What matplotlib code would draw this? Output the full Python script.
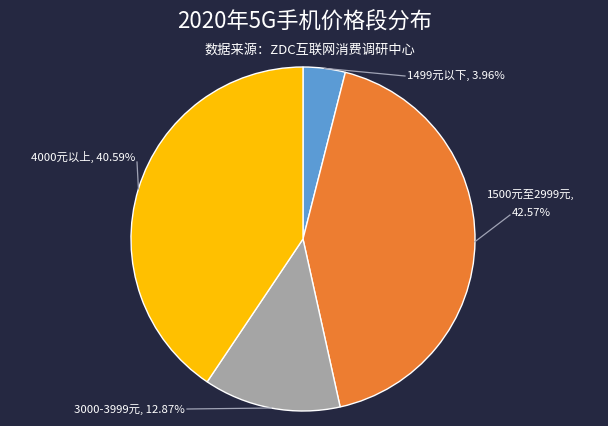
import numpy as np
import matplotlib
matplotlib.use("Agg")
import matplotlib.pyplot as plt

plt.rcParams['font.family'] = ['Noto Sans CJK SC', 'DejaVu Sans']

# data
categories = ['1499元以下', '1500元至2999元', '3000-3999元', '4000元以上']
shares = [3.96, 42.57, 12.87, 40.59]
colors = ['#5B9BD5', '#ED7D31', '#A5A5A5', '#FFC000']
label_texts = ['1499元以下, 3.96%', '1500元至2999元,\n42.57%',
               '3000-3999元, 12.87%', '4000元以上, 40.59%']

W, H = 608, 427
bg = '#252841'
cx, cy, r = 303, H - 240, 172

fig = plt.figure(figsize=(W / 100, H / 100), dpi=100, facecolor=bg)
ax = fig.add_axes([0, 0, 1, 1])
ax.set_facecolor(bg)

wedges, _ = ax.pie(shares, colors=colors, startangle=90, counterclock=False,
                   center=(cx, cy), radius=r, frame=True,
                   wedgeprops=dict(edgecolor='white', linewidth=1.0))
ax.set_xlim(0, W)
ax.set_ylim(0, H)
ax.set_aspect('equal')
ax.axis('off')

# label positions (pixel coords from top), line end points, alignment
label_pos = [(407, 75, 'left', 'center'),
             (531, 203, 'center', 'center'),
             (185, 410, 'right', 'center'),
             (135, 157, 'right', 'center')]
line_end = [(405, 77), (510, 216), (187, 410), (137, 163)]

for w, txt, (lx, ly, ha, va), (ex, ey) in zip(wedges, label_texts, label_pos, line_end):
    mid = np.deg2rad((w.theta1 + w.theta2) / 2)
    px, py = cx + r * np.cos(mid), cy + r * np.sin(mid)
    ax.plot([px, ex], [py, H - ey], color='#A0A3B5', linewidth=0.9, zorder=1)
    ax.text(lx, H - ly, txt, color='white', fontsize=8.2, ha=ha, va=va,
            linespacing=2.0)

fig.text(305 / W, 1 - 22 / H, '2020年5G手机价格段分布', color='white',
         fontsize=16, ha='center', va='center')
fig.text(310 / W, 1 - 50 / H, '数据来源：ZDC互联网消费调研中心', color='white',
         fontsize=9.5, ha='center', va='center')

fig.savefig('out.png', dpi=100, facecolor=bg)
